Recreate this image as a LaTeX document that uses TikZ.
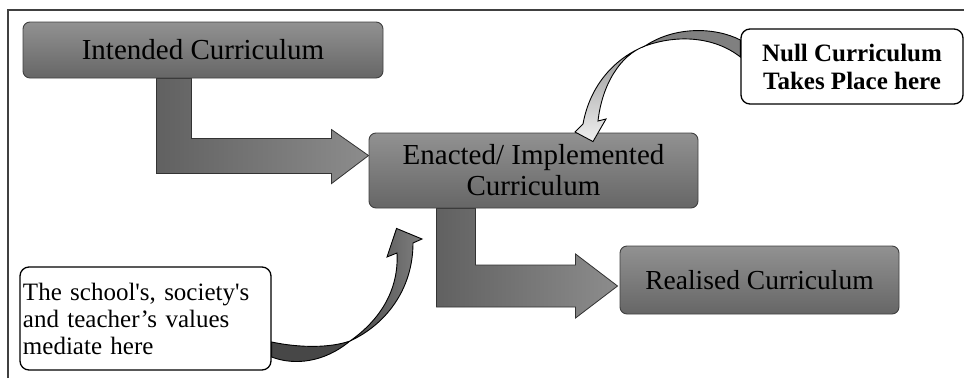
\documentclass[tikz,border=0pt]{standalone}
\usepackage{fontspec}
\setmainfont{Liberation Serif}[Ligatures=TeXOff]
\usetikzlibrary{calc,backgrounds}
\pgfdeclarelayer{front}
\pgfsetlayers{background,main,front}
\begin{document}
\begin{tikzpicture}[x=1pt,y=-1pt,
  gbox/.style={draw=black!75, line width=0.9pt, rounded corners=7pt, top color=black!43, bottom color=black!60, text=black, inner sep=0pt},
  wbox/.style={draw=black, line width=1.3pt, rounded corners=9pt, fill=white, text=black, inner sep=0pt},
  blockarrow/.style={draw=black!80, line width=0.8pt, left color=black!62, right color=black!45},
  lightarrow/.style={draw=black, line width=0.9pt, top color=black!42, bottom color=black!6},
  lighttwist/.style={draw=black, line width=0.9pt, fill=black!50},
  darkarrow/.style={draw=black, line width=0.9pt, left color=black!72, right color=black!50},
  darktwist/.style={draw=black, line width=0.9pt, fill=black!72},
  frame/.style={draw=black!75, line width=1.2pt}]
\useasboundingbox (0,0) rectangle (964,378);
\draw[frame] (8,378) -- (8,10) -- (964,10);

% grey boxes
\node[gbox, minimum width=360pt, minimum height=56pt, font=\fontsize{29}{31}\selectfont] (int) at (203,50)
  {Intended Curriculum};
\node[gbox, minimum width=329pt, minimum height=75pt, align=center, font=\fontsize{29}{31}\selectfont] (ena) at (533.5,170.5)
  {Enacted/ Implemented\\Curriculum};
\node[gbox, minimum width=279pt, minimum height=68pt, font=\fontsize{27.5}{30}\selectfont] (rea) at (759.5,280)
  {Realised Curriculum};

% white boxes (front layer)
\begin{pgfonlayer}{front}
\node[wbox, minimum width=222pt, minimum height=75pt, align=center, font=\fontsize{25}{28}\selectfont\bfseries] (nul) at (852,66.5)
  {Null Curriculum\\Takes Place here};
\node[wbox, minimum height=103pt, text width=245pt, inner xsep=3pt, align=left, font=\fontsize{25}{27}\selectfont] (sch) at (145.5,318.5)
  {The school's, society's\\and teacher’s values\\mediate here};
\end{pgfonlayer}

% block arrows (behind the grey boxes)
\begin{pgfonlayer}{background}
\coordinate (a1s) at ($(int.south west)+(134,0)$);
\coordinate (a1t) at ($(ena.north west)+(0,23)$);
\path[blockarrow] (a1s) -- ++(35,0) |- ($(a1t)+(-37,-17)$) -- ($(a1t)+(-37,-26)$) -- (a1t)
  -- ($(a1t)+(-37,28)$) -- ($(a1t)+(-37,18)$) -| (a1s) -- cycle;
\coordinate (a2s) at ($(ena.south west)+(68,0)$);
\coordinate (a2t) at ($(rea.west)+(-2,6)$);
\path[blockarrow] (a2s) -- ++(39,0) |- ($(a2t)+(-42,-21)$) -- ($(a2t)+(-42,-32)$) -- (a2t)
  -- ($(a2t)+(-42,32)$) -- ($(a2t)+(-42,21)$) -| (a2s) -- cycle;
\end{pgfonlayer}

% curved arrow: Null curriculum -> Enacted (twisted ribbon)
\coordinate (nT) at (645,46);
\path[lightarrow] (nT) .. controls (615,58) and (590,85) .. (583,124)
  -- (575,132) -- ($(ena.north)+(59.5,9)$) -- (606,119) -- (598,121)
  .. controls (602,85) and (620,55) .. (nT) -- cycle;
\path[lighttwist] ($(nul.west)+(0,-26.5)$) .. controls (715,27) and (675,26) .. (nT)
  .. controls (678,34) and (715,37) .. ($(nul.west)+(0,-9.5)$) -- cycle;

% curved arrow: school's box -> Enacted (twisted ribbon)
\coordinate (sT) at (350,341);
\path[darkarrow] (sT) .. controls (385,325) and (413,290) .. (413,243)
  -- (422,239) -- ($(ena.south west)+(28,20)$) -- (387,257) -- (397,253)
  .. controls (399,290) and (380,320) .. (sT) -- cycle;
\path[darktwist] ($(sch.east)+(0,23.5)$) .. controls (300,348) and (330,348) .. (sT)
  .. controls (325,362) and (295,366) .. ($(sch.east)+(0,38.5)$) -- cycle;
\end{tikzpicture}
\end{document}
